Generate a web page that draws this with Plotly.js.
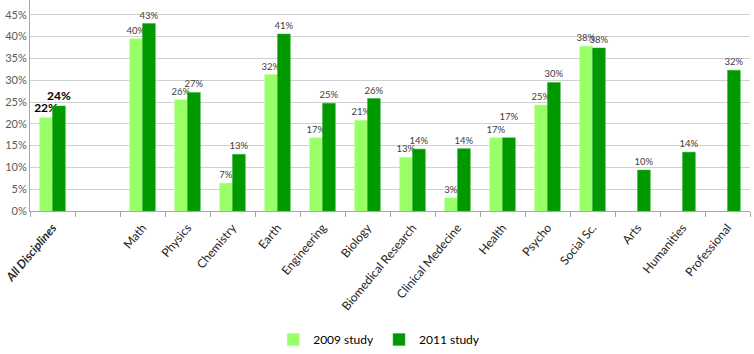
<!DOCTYPE html>
<html>
<head>
<meta charset="utf-8">
<script src="https://cdn.plot.ly/plotly-3.0.1.min.js"></script>
<style>html,body{margin:0;padding:0;background:#fff;}#chart{width:754px;height:354px;}</style>
</head>
<body>
<div id="chart"></div>
<script>
var categories = ["All Disciplines", " ", "Math", "Physics", "Chemistry", "Earth", "Engineering", "Biology", "Biomedical Research", "Clinical Medecine", "Health", "Psycho", "Social Sc.", "Arts", "Humanities", "Professional"];
var tickLabels = ["<b><i>All Disciplines</i></b>", "", "Math", "Physics", "Chemistry", "Earth", "Engineering", "Biology", "Biomedical Research", "Clinical Medecine", "Health", "Psycho", "Social Sc.", "Arts", "Humanities", "Professional"];
var study2009 = [21.4, null, 39.5, 25.5, 6.4, 31.3, 16.8, 20.8, 12.3, 3.0, 16.8, 24.3, 37.8, null, null, null];
var study2011 = [24.1, null, 43.0, 27.2, 13.0, 40.6, 24.7, 25.8, 14.2, 14.3, 16.8, 29.5, 37.4, 9.4, 13.5, 32.3];
var labels2009 = ["<b>22%</b>", "", "40%", "26%", "7%", "32%", "17%", "21%", "13%", "3%", "17%", "25%", "38%", "", "", ""];
var labels2011 = ["<b>24%</b>", "", "43%", "27%", "13%", "41%", "25%", "26%", "14%", "14%", "17%<br><span style=\"fill-opacity:0\">.</span>", "30%", "38%", "10%", "14%", "32%"];
var yTicks = [0, 5, 10, 15, 20, 25, 30, 35, 40, 45];
var yTickText = ["0%", "5%", "10%", "15%", "20%", "25%", "30%", "35%", "40%", "45%"];

var labelSizes = categories.map(function(c, i){ return i === 0 ? 12 : 9.5; });
var labelColors = categories.map(function(c, i){ return i === 0 ? "#000000" : "#404040"; });

var traces = [
  {
    type: "bar", name: "2009 study", x: categories, y: study2009,
    text: labels2009, textposition: "outside", constraintext: "none", cliponaxis: false,
    textfont: {family: "Lato, sans-serif", size: labelSizes, color: labelColors},
    marker: {color: "#99ff66", line: {color: "#b3ff8c", width: 0.5}},
    hoverinfo: "skip"
  },
  {
    type: "bar", name: "2011 study", x: categories, y: study2011,
    text: labels2011, textposition: "outside", constraintext: "none", cliponaxis: false,
    textfont: {family: "Lato, sans-serif", size: labelSizes, color: labelColors},
    marker: {color: "#009900", line: {color: "#33b033", width: 0.5}},
    hoverinfo: "skip"
  }
];

var layout = {
  width: 754, height: 354,
  margin: {l: 30, r: 4, t: 0, b: 141},
  paper_bgcolor: "#ffffff", plot_bgcolor: "#ffffff",
  font: {family: "Lato, sans-serif", size: 11, color: "#404040"},
  barmode: "group", bargap: 0.43, bargroupgap: 0,
  showlegend: true,
  legend: {orientation: "h", x: 0.485, xanchor: "center", y: -0.612, yanchor: "middle",
           font: {family: "Lato, sans-serif", size: 12, color: "#000000"}, traceorder: "normal"},
  xaxis: {
    type: "category", categoryorder: "array", categoryarray: categories,
    tickvals: categories, ticktext: tickLabels, tickangle: -50, automargin: false,
    tickson: "boundaries", ticks: "outside", ticklen: 5, tickcolor: "#a6a6a6",
    ticklabelstandoff: 4,
    showline: true, linecolor: "#a6a6a6", linewidth: 1, showgrid: false,
    tickfont: {family: "Lato, sans-serif", size: 12, color: "#262626"},
    range: [-0.5, 15.5], fixedrange: true
  },
  yaxis: {
    range: [0, 48.4], tickvals: yTicks, ticktext: yTickText, automargin: false,
    showgrid: true, gridcolor: "#d0d0d0", gridwidth: 1,
    showline: true, linecolor: "#a6a6a6", linewidth: 1, zeroline: false,
    ticks: "", tickfont: {family: "Lato, sans-serif", size: 11, color: "#595959"},
    fixedrange: true
  }
};

Plotly.newPlot("chart", traces, layout, {displayModeBar: false, staticPlot: true});
</script>
</body>
</html>
